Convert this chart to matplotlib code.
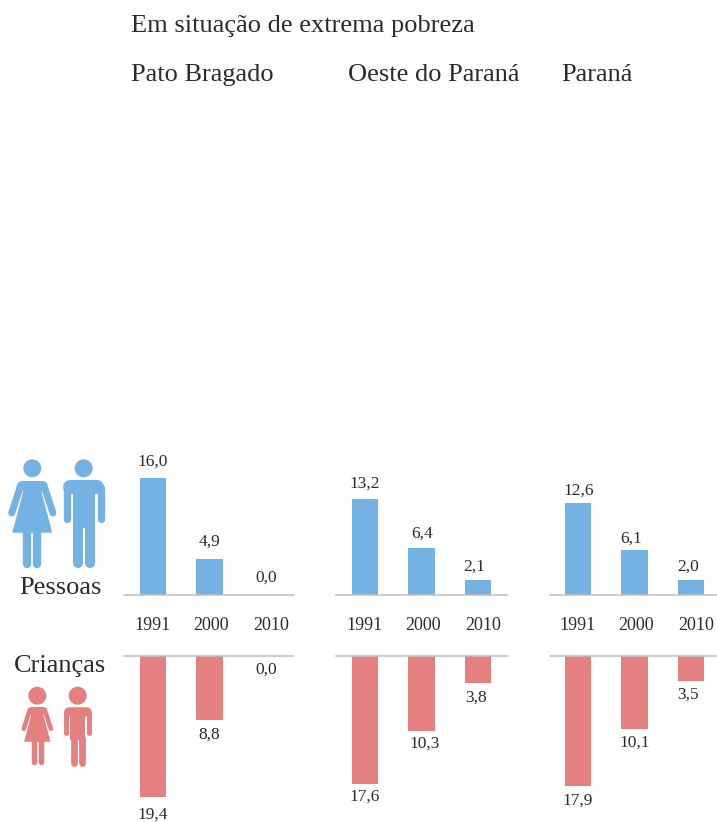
import matplotlib
matplotlib.use("Agg")
import matplotlib.pyplot as plt
from matplotlib.patches import Circle, Polygon

plt.rcParams['font.family'] = ['Liberation Serif', 'DejaVu Serif']

# ---- data ----
title = "Em situação de extrema pobreza"
regions = ["Pato Bragado", "Oeste do Paraná", "Paraná"]
years = ["1991", "2000", "2010"]
people_pato = [16.0, 4.9, 0.0]
people_oeste = [13.2, 6.4, 2.1]
people_parana = [12.6, 6.1, 2.0]
children_pato = [19.4, 8.8, 0.0]
children_oeste = [17.6, 10.3, 3.8]
children_parana = [17.9, 10.1, 3.5]

# ---- style / layout (pixels) ----
W, H, DPI = 717, 822, 100
BLUE, PINK = "#74B2E3", "#E58080"
INK, RULE = "#2B2B2B", "#BDBEC2"
PX_PER_UNIT = 7.3
TOP_BASE, BOT_BASE = 595, 655.5
TOP_EDGE, BOT_EDGE = 440, 822
STEP, BAR_W = 56.5, 26.5
col_first_center = [153, 365, 578]
col_extent = [(124, 294), (336, 507), (550, 717)]
region_x = [131, 348, 561]
year_dx = [0, 2, 5]
top_nudge = [[(0, 3), (0, 4), (0, 3)], [(0, 1), (1, 1), (-4, -1)], [(1, -2), (-3, -2), (-3, 0)]]
bot_nudge = [[(0, 4), (0, 1), (0, 0)], [(0, -1), (3, -1), (-2, 0)], [(0, 0), (0, -1), (-3, 0)]]

fig = plt.figure(figsize=(W / DPI, H / DPI), dpi=DPI, facecolor="white")


def make_axes(x0, x1, y_top, y_bottom):
    return fig.add_axes([x0 / W, 1 - y_bottom / H, (x1 - x0) / W, (y_bottom - y_top) / H])


def style(ax, center, x0, x1, spine):
    ax.set_xlim((x0 - center) / STEP, (x1 - center) / STEP)
    ax.set_xticks([])
    ax.set_yticks([])
    ax.patch.set_alpha(0)
    for name, s in ax.spines.items():
        s.set_visible(name == spine)
        s.set_color(RULE)
        s.set_linewidth(1.1)


people = [people_pato, people_oeste, people_parana]
children = [children_pato, children_oeste, children_parana]
for c in range(3):
    x0, x1 = col_extent[c]
    center = col_first_center[c]
    pos = range(3)

    top = make_axes(x0, x1, TOP_EDGE, TOP_BASE)
    style(top, center, x0, x1, "bottom")
    top.set_ylim(0, (TOP_BASE - TOP_EDGE) / PX_PER_UNIT)
    top.bar(pos, people[c], width=BAR_W / STEP, color=BLUE, linewidth=0)
    for i, v in enumerate(people[c]):
        dx, dy = top_nudge[c][i]
        top.annotate(f"{v:.1f}".replace(".", ","), (i, v), xytext=(dx, 14 + dy),
                     textcoords="offset pixels", ha="center", va="center",
                     fontsize=12.5, color=INK, annotation_clip=False)
        top.annotate(years[i], (i, 0), xytext=(year_dx[i], -31), textcoords="offset pixels",
                     ha="center", va="center", fontsize=13, color=INK, annotation_clip=False)

    bot = make_axes(x0, x1, BOT_BASE, BOT_EDGE)
    style(bot, center, x0, x1, "top")
    bot.set_ylim((BOT_EDGE - BOT_BASE) / PX_PER_UNIT, 0)
    bot.bar(pos, children[c], width=BAR_W / STEP, color=PINK, linewidth=0)
    for i, v in enumerate(children[c]):
        dx, dy = bot_nudge[c][i]
        bot.annotate(f"{v:.1f}".replace(".", ","), (i, v), xytext=(dx, -(14 + dy)),
                     textcoords="offset pixels", ha="center", va="center",
                     fontsize=12.5, color=INK, annotation_clip=False)

# overlay in pixel coordinates for headings and pictograms
ov = fig.add_axes([0, 0, 1, 1])
ov.set_xlim(0, W)
ov.set_ylim(H, 0)
ov.axis("off")
ov.patch.set_alpha(0)

ov.text(131, 32, title, fontsize=19, color=INK, va="baseline", ha="left")
for x, r in zip(region_x, regions):
    ov.text(x, 81, r, fontsize=19, color=INK, va="baseline", ha="left")
ov.text(60, 594, "Pessoas", fontsize=19, color=INK, ha="center", va="baseline")
ov.text(60, 672, "Crianças", fontsize=19, color=INK, ha="center", va="baseline")


def stroke(pts, width, color):
    xs, ys = zip(*pts)
    ov.plot(xs, ys, color=color, lw=width * 72 / DPI, solid_capstyle="round", zorder=3)


def woman(cx, head_y, shoulder_y, s, color):
    ov.add_patch(Circle((cx, head_y), 9, fc=color, ec="none", zorder=3))
    X = lambda u: cx + u * s
    Y = lambda v: shoulder_y + v * s
    stroke([(X(-10), Y(4.5)), (X(10), Y(4.5))], 9 * s, color)
    for side in (-1, 1):
        stroke([(X(side * 11.5), Y(5)), (X(side * 20.6), Y(33))], 7 * s, color)
        stroke([(X(side * 5), Y(50)), (X(side * 5), Y(83.5))], 8.3 * s, color)
    ov.add_patch(Polygon([(X(-10), Y(2)), (X(10), Y(2)), (X(9.5), Y(13)), (X(20), Y(52.7)),
                          (X(-20), Y(52.7)), (X(-9.5), Y(13))], fc=color, ec="none", zorder=3))


def man(cx, head_y, shoulder_y, s, color):
    ov.add_patch(Circle((cx, head_y), 9, fc=color, ec="none", zorder=3))
    X = lambda u: cx + u * s
    Y = lambda v: shoulder_y + v * s
    stroke([(X(-13.4), Y(7)), (X(13.4), Y(7))], 14 * s, color)
    ov.add_patch(Polygon([(X(-11), Y(4)), (X(11), Y(4)), (X(11), Y(48)), (X(-11), Y(48))],
                         fc=color, ec="none", zorder=3))
    for side in (-1, 1):
        stroke([(X(side * 16.8), Y(8)), (X(side * 16.8), Y(38.5))], 7.3 * s, color)
        stroke([(X(side * 6), Y(45)), (X(side * 6), Y(82.7))], 10 * s, color)


woman(32.3, 468.3, 480, 1.0, BLUE)
man(83.7, 468.3, 480, 1.0, BLUE)
woman(37.3, 695.7, 707, 0.66, PINK)
man(77.7, 695.7, 707, 0.68, PINK)

fig.savefig("out.png", dpi=DPI, facecolor="white")
